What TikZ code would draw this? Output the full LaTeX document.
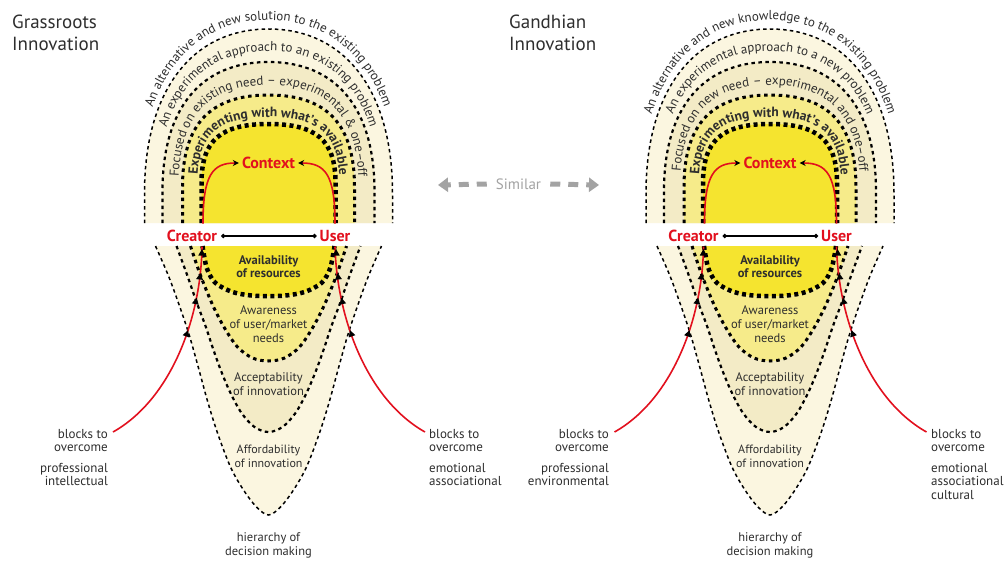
\documentclass[tikz,border=0pt]{standalone}
\usepackage{fontspec}
\setmainfont{PT Sans}
\usetikzlibrary{arrows.meta,decorations.text}

\definecolor{redc}{HTML}{E2101E}
\definecolor{txt}{HTML}{2E2E2E}
\definecolor{fillA}{HTML}{FBF6E0}
\definecolor{fillB}{HTML}{F3EBC6}
\definecolor{fillC}{HTML}{F6EB8A}
\definecolor{fillD}{HTML}{F5E42F}
\definecolor{simgray}{HTML}{A3A3A3}

\tikzset{
  ln1/.style={line width=1.5pt, dash pattern=on 3.5pt off 3.2pt},
  ln2/.style={line width=2.2pt, dash pattern=on 3.5pt off 3.5pt},
  ln3/.style={line width=3pt, dash pattern=on 3.5pt off 3.8pt},
  ln4/.style={line width=4.5pt, dash pattern=on 4pt off 3.5pt},
  redline/.style={draw=redc, line width=1.6pt},
  lbl/.style={font=\fontsize{12.5}{14}\selectfont, text=txt, align=center, inner sep=0pt},
  boldlbl/.style={lbl, font=\bfseries\fontsize{12.5}{13.5}\selectfont},
  redlbl/.style={font=\bfseries\fontsize{16}{18}\selectfont, text=redc, inner sep=1pt},
  side/.style={font=\fontsize{13}{13.5}\selectfont, text=txt, inner sep=0pt},
  titletext/.style={font=\fontsize{19}{21.5}\selectfont, text=txt, align=left, inner sep=0pt, anchor=north west},
  simtext/.style={font=\fontsize{15}{17}\selectfont, text=simgray, inner xsep=9pt, inner ysep=0pt},
  simarrow/.style={draw=simgray, line width=5pt, dash pattern=on 10pt off 8pt,
    -{Triangle[length=10pt,width=14pt]}},
  arctext/.style={decorate, decoration={text along path, text align=center, text={#1}}}
}

% rounded arch: half width, height, straight part, control factor
\newcommand\archshape[4]{(-#1,0) -- (-#1,-#3) .. controls (-#1,{-#3-#4*(#2-#3)}) and ({-#4*#1},-#2) .. (0,-#2)
  .. controls ({#4*#1},-#2) and (#1,{-#3-#4*(#2-#3)}) .. (#1,-#3) -- (#1,0)}

% small upward marker on the red lines
\newcommand\uptri[3]{\fill[black, shift={(#1,#2)}, rotate=#3] (0,-4.5) -- (-3.5,2) -- (3.5,2) -- cycle;}

\newcommand\afont{\color{txt}\fontsize{13}{15}\selectfont}
\newcommand\bfont{\color{txt}\bfseries\fontsize{13.5}{15}\selectfont}

% one innovation diagram: #1 name prefix, #2 centre x, #3-#6 arch texts (outer to inner)
\newcommand\innovation[6]{%
  % upper arches
  \begin{scope}[shift={(#2,223)}]
    \fill[fillA] \archshape{124}{194}{30}{0.62};
    \fill[fillB] \archshape{106}{161}{32}{0.64};
    \fill[fillC] \archshape{86}{128}{36}{0.68};
    \fill[fillD] \archshape{67}{99}{40}{0.72};
    \draw[ln1] \archshape{124}{194}{30}{0.62};
    \draw[ln2] \archshape{106}{161}{32}{0.64};
    \draw[ln3] \archshape{86}{128}{36}{0.68};
    \draw[ln4] \archshape{67}{99}{40}{0.72};
    \path[arctext={|\afont|#3}] \archshape{129}{203}{30}{0.62};
    \path[arctext={|\afont|#4}] \archshape{110}{172}{32}{0.64};
    \path[arctext={|\afont|#5}] \archshape{90}{138}{36}{0.68};
    \path[arctext={|\bfont|#6}] \archshape{71}{106}{40}{0.72};
  \end{scope}
  % lower funnels
  \begin{scope}[shift={(#2,246)}]
    \fill[fillA] plot[smooth, tension=0.55] coordinates {(-113,0) (-100,30) (-89,60) (-79,90) (-70,122) (-61,155) (-51,187) (-38,221) (-25,244) (-12,261) (0,269) (12,261) (25,244) (38,221) (51,187) (61,155) (70,122) (79,90) (89,60) (100,30) (113,0)} -- cycle;
    \fill[fillB] plot[smooth, tension=0.55] coordinates {(-92,0) (-81,30) (-72,56) (-63,80) (-55,104) (-47,126) (-38,147) (-27,167) (-14,181) (0,186) (14,181) (27,167) (38,147) (47,126) (55,104) (63,80) (72,56) (81,30) (92,0)} -- cycle;
    \fill[fillC] plot[smooth, tension=0.55] coordinates {(-78,0) (-72,18) (-67,32) (-61,47) (-54,63) (-44,82) (-31,101) (-16,112) (0,115) (16,112) (31,101) (44,82) (54,63) (61,47) (67,32) (72,18) (78,0)} -- cycle;
    \fill[fillD] plot[smooth, tension=0.55] coordinates {(-66,0) (-64,12) (-61,24) (-53,37) (-36,46) (-17,49.5) (0,50) (17,49.5) (36,46) (53,37) (61,24) (64,12) (66,0)} -- cycle;
    \draw[ln1] plot[smooth, tension=0.55] coordinates {(-113,0) (-100,30) (-89,60) (-79,90) (-70,122) (-61,155) (-51,187) (-38,221) (-25,244) (-12,261) (0,269) (12,261) (25,244) (38,221) (51,187) (61,155) (70,122) (79,90) (89,60) (100,30) (113,0)};
    \draw[ln2] plot[smooth, tension=0.55] coordinates {(-92,0) (-81,30) (-72,56) (-63,80) (-55,104) (-47,126) (-38,147) (-27,167) (-14,181) (0,186) (14,181) (27,167) (38,147) (47,126) (55,104) (63,80) (72,56) (81,30) (92,0)};
    \draw[ln3] plot[smooth, tension=0.55] coordinates {(-78,0) (-72,18) (-67,32) (-61,47) (-54,63) (-44,82) (-31,101) (-16,112) (0,115) (16,112) (31,101) (44,82) (54,63) (61,47) (67,32) (72,18) (78,0)};
    \draw[ln4] plot[smooth, tension=0.55] coordinates {(-66,0) (-64,12) (-61,24) (-53,37) (-36,46) (-17,49.5) (0,50) (17,49.5) (36,46) (53,37) (61,24) (64,12) (66,0)};
  \end{scope}
  % labels and red connectors
  \begin{scope}[shift={(#2,0)}]
    \node[redlbl, inner xsep=3pt] (#1ctx) at (0,163) {Context};
    \node[redlbl] (#1cre) at (-76.5,236) {Creator};
    \node[redlbl] (#1usr) at (66.5,236) {User};
    \draw[line width=1.5pt, {Circle[length=4pt]}-{Circle[length=4pt]}, shorten <=3pt, shorten >=2pt] (#1cre.east) -- (#1usr.west);
    \coordinate (#1tl) at (-65.5,223.5);
    \coordinate (#1tr) at (66.5,223.5);
    \draw[redline, -{Stealth[black,length=6pt,width=6pt]}] (#1tl) .. controls (-65.5,175) and (-56,163) .. (#1ctx.west);
    \draw[redline, -{Stealth[black,length=6pt,width=6pt]}] (#1tr) .. controls (66.5,175) and (57,163) .. (#1ctx.east);
    \coordinate (#1bl) at (-155.5,432);
    \coordinate (#1cl) at (-66.5,246.5);
    \coordinate (#1br) at (156.5,432);
    \coordinate (#1cr) at (66.5,246.5);
    \draw[redline] (#1bl) .. controls (-98.5,400) and (-67.5,320) .. (#1cl);
    \draw[redline] (#1br) .. controls (99.5,400) and (68.5,320) .. (#1cr);
    \uptri{-81.9}{334.4}{-19}
    \uptri{-72.8}{302.1}{-12}
    \uptri{-68.7}{277.5}{-7}
    \uptri{-66.7}{253.6}{-2}
    \uptri{82.9}{334.4}{19}
    \uptri{73.8}{302.1}{12}
    \uptri{69.7}{277.5}{7}
    \uptri{67.7}{253.6}{2}
    \node[boldlbl, anchor=north] (#1avl) at (0,255) {Availability\\of resources};
    \node[lbl, anchor=north] (#1awr) at (0,305) {Awareness\\of user/market\\needs};
    \node[lbl, anchor=north] (#1acc) at (0,372) {Acceptability\\of innovation};
    \node[lbl, font=\fontsize{12}{13.5}\selectfont, anchor=north] (#1aff) at (0,445) {Affordability\\of innovation};
    \node[lbl, anchor=north] (#1hier) at (0,532) {hierarchy of\\decision making};
  \end{scope}
}

\begin{document}
\begin{tikzpicture}[x=1pt, y=-1pt]
  \fill[white] (0,0) rectangle (1007,563);
  \useasboundingbox (0,0) rectangle (1007,563);

  \innovation{g}{268.5}
    {An alternative and new solution to the existing problem}
    {An experimental approach to an existing problem}
    {Focused on existing need – experimental {\&} one–off}
    {Experimenting with what’s available}

  \innovation{h}{770}
    {An alternative and new knowledge to the existing problem}
    {An experimental approach to a new problem}
    {Focused on new need – experimental and one–off}
    {Experimenting with what’s available}

  % titles
  \node[titletext] (gtitle) at (12,15) {Grassroots\\Innovation};
  \node[titletext] (htitle) at (509,15) {Gandhian\\Innovation};

  % side labels
  \node[side, align=right, anchor=north east] (gbl) at (108,429) {blocks to\\overcome};
  \node[side, align=right, anchor=north east] (gpl) at (108,463) {professional\\intellectual};
  \node[side, align=left, anchor=north west] (gbr) at (429,429) {blocks to\\overcome};
  \node[side, align=left, anchor=north west] (gpr) at (429,463) {emotional\\associational};
  \node[side, align=right, anchor=north east] (hbl) at (609,429) {blocks to\\overcome};
  \node[side, align=right, anchor=north east] (hpl) at (609,463) {professional\\environmental};
  \node[side, align=left, anchor=north west] (hbr) at (931,429) {blocks to\\overcome};
  \node[side, align=left, anchor=north west] (hpr) at (931,463) {emotional\\associational\\cultural};

  % similarity marker
  \node[simtext] (sim) at (518.5,184) {Similar};
  \coordinate (simL) at (438,185);
  \coordinate (simR) at (599,185);
  \draw[simarrow] (sim.west) -- (simL);
  \draw[simarrow] (sim.east) -- (simR);
\end{tikzpicture}
\end{document}
